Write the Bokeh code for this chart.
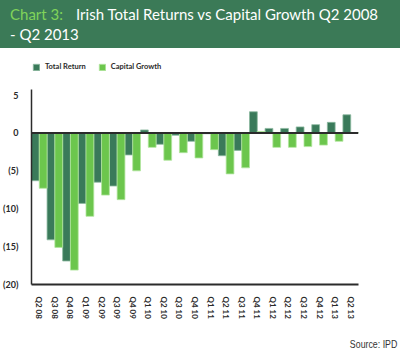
from bokeh.plotting import figure
from bokeh.models import (Range1d, FactorRange, FixedTicker, Span, Legend,
                          LegendItem, ColumnDataSource, Div)
from bokeh.transform import dodge
from bokeh.layouts import column
from bokeh.embed import file_html
from bokeh.resources import INLINE

categories = ["Q2 08", "Q3 08", "Q4 08", "Q1 09", "Q2 09", "Q3 09", "Q4 09",
              "Q1 10", "Q2 10", "Q3 10", "Q4 10", "Q1 11", "Q2 11", "Q3 11",
              "Q4 11", "Q1 12", "Q2 12", "Q3 12", "Q4 12", "Q1 13", "Q2 13"]
total_return = [-6.3, -14.1, -16.9, -9.3, -6.5, -7.0, -2.9, 0.4, -1.5, -0.3, -1.1,
                -0.1, -3.0, -2.3, 2.8, 0.6, 0.6, 0.8, 1.1, 1.4, 2.4]
capital_growth = [-7.3, -15.1, -18.1, -11.0, -8.2, -8.8, -5.0, -1.9, -3.6, -2.6, -3.3,
                  -2.2, -5.4, -4.6, 0.2, -1.9, -1.9, -1.8, -1.6, -1.1, 0.05]
y_ticks = [5, 0, -5, -10, -15, -20]
y_tick_labels = ["5", "0", "(5)", "(10)", "(15)", "(20)"]

title_prefix = "Chart 3:"
title_line1 = "Irish Total Returns vs Capital Growth Q2 2008"
title_line2 = "- Q2 2013"
source_text = "Source: IPD"

HEADER = "#3b7a57"
DARK = "#3a7a5a"
LIGHT = "#6cc64d"
TXT = "#2a2a2a"
FONT = "Lato"

# ---- header band ----
span_css = "position:absolute;white-space:nowrap;line-height:19px;"
header_html = (
    f'<div style="position:relative;width:400px;height:48px;background:{HEADER};'
    f'font-family:{FONT};font-size:15px;color:white;overflow:hidden;">'
    f'<span style="{span_css}left:10px;top:5.4px;color:#80d45a;">{title_prefix}</span>'
    f'<span style="{span_css}left:76px;top:5.4px;">{title_line1}</span>'
    f'<span style="{span_css}left:10px;top:24.7px;">{title_line2}</span>'
    '</div>'
)
h = Div(text=header_html, width=400, height=48, margin=0)

# ---- main chart ----
src = ColumnDataSource(dict(cat=categories, tr=total_return, cg=capital_growth))
p = figure(width=400, height=283, x_range=FactorRange(*categories),
           y_range=Range1d(-20, 11.15), toolbar_location=None, output_backend="svg",
           min_border_left=26, min_border_right=42, min_border_top=0, min_border_bottom=47,
           outline_line_color=None, background_fill_color="white",
           border_fill_color="white")
p.grid.visible = False

r1 = p.vbar(x=dodge("cat", -0.25, range=p.x_range), top="tr", width=0.5, source=src,
            fill_color=DARK, line_color="#8cb9a0", line_width=0.8)
r2 = p.vbar(x=dodge("cat", 0.25, range=p.x_range), top="cg", width=0.5, source=src,
            fill_color=LIGHT, line_color="#b2e6a0", line_width=0.8)

p.add_layout(Span(location=0, dimension="width", line_color="#2b2b2b", line_width=2))

p.yaxis.ticker = FixedTicker(ticks=y_ticks)
p.yaxis.bounds = (-20, 5.7)
p.yaxis.major_label_overrides = {t: l for t, l in zip(y_ticks, y_tick_labels)}
p.yaxis.major_tick_line_color = None
p.yaxis.minor_tick_line_color = None
p.yaxis.axis_line_color = "#2b2b2b"
p.yaxis.axis_line_width = 1.5
p.yaxis.major_label_text_font = FONT
p.yaxis.major_label_text_font_style = "bold"
p.yaxis.major_label_text_font_size = "9px"
p.yaxis.major_label_text_color = TXT
p.yaxis.major_label_standoff = 7

p.xaxis.major_tick_line_color = None
p.xaxis.axis_line_color = "#2b2b2b"
p.xaxis.axis_line_width = 2
p.xaxis.major_label_orientation = "vertical"
p.xaxis.major_label_text_font = FONT
p.xaxis.major_label_text_font_style = "bold"
p.xaxis.major_label_text_font_size = "8px"
p.xaxis.major_label_text_color = TXT
p.xaxis.major_label_standoff = 6

legend = Legend(items=[LegendItem(label="Total Return", renderers=[r1]),
                       LegendItem(label="Capital Growth", renderers=[r2])],
                location=(1, 213), orientation="horizontal", padding=0, margin=0,
                spacing=12, glyph_width=8, glyph_height=8, label_standoff=5,
                label_text_font=FONT, label_text_font_style="bold",
                label_text_font_size="7.5px", label_text_color=TXT,
                label_height=8, border_line_color=None, background_fill_alpha=0)
p.add_layout(legend, "center")

# ---- footer ----
footer_html = (
    '<div style="position:relative;width:400px;height:20px;background:white;">'
    '<span style="position:absolute;right:3px;top:6.5px;white-space:nowrap;'
    'display:inline-block;transform:scaleX(0.8);transform-origin:right center;'
    'line-height:12px;font-family:\'Liberation Sans Narrow\',\'Liberation Sans\',sans-serif;'
    f'font-size:11px;color:#333333;">{source_text}</span></div>'
)
f = Div(text=footer_html, width=400, height=20, margin=0)

layout = column(h, p, f, spacing=0)
open("out.html", "w").write(file_html(layout, INLINE))
